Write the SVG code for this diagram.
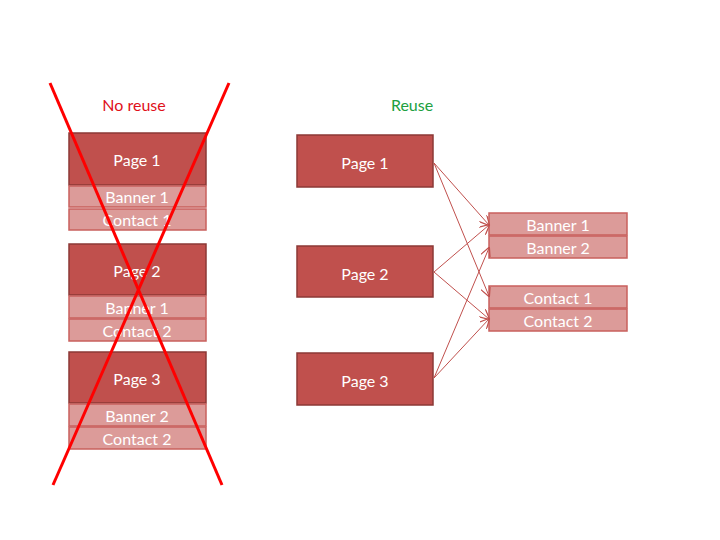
<svg xmlns="http://www.w3.org/2000/svg" width="720" height="540" viewBox="0 0 720 540">
<defs>
<style>
.page{fill:#c0504d;stroke:#8c3836;stroke-width:1.5}
.sub{fill:#dc9b99;stroke:#c9605d;stroke-width:1.5}
.t{font-family:Lato,"Open Sans","Liberation Sans",sans-serif;font-size:16px;fill:#ffffff;text-anchor:middle}
.lbl{font-family:Lato,"Open Sans","Liberation Sans",sans-serif;font-size:16px;text-anchor:middle}
.conn{stroke:#c0504d;stroke-width:1;fill:none;marker-end:url(#ah)}
.x{stroke:#ff0000;stroke-width:3;fill:none}
</style>
<marker id="ah" viewBox="0 0 10 10" refX="9" refY="5" markerWidth="10" markerHeight="10" markerUnits="userSpaceOnUse" orient="auto">
<path d="M0,0 L10,5 L0,10" fill="none" stroke="#c0504d" stroke-width="1.2"/>
</marker>
</defs>
<rect width="720" height="540" fill="#ffffff"/>
<text class="lbl" x="134" y="111" fill="#e0101a">No reuse</text>
<text class="lbl" x="412" y="111" fill="#20a040">Reuse</text>

<g id="left-page1">
<rect class="page" x="69" y="133" width="137" height="52"/>
<text class="t" x="137" y="166">Page 1</text>
<rect class="sub" x="69" y="186" width="137" height="21"/>
<text class="t" x="137" y="203">Banner 1</text>
<rect class="sub" x="69" y="209" width="137" height="21"/>
<text class="t" x="137" y="226">Contact 1</text>
</g>
<g id="left-page2">
<rect class="page" x="69" y="244" width="137" height="51"/>
<text class="t" x="137" y="277">Page 2</text>
<rect class="sub" x="69" y="296" width="137" height="22"/>
<text class="t" x="137" y="314">Banner 1</text>
<rect class="sub" x="69" y="319" width="137" height="22"/>
<text class="t" x="137" y="337">Contact 2</text>
</g>
<g id="left-page3">
<rect class="page" x="69" y="352" width="137" height="51"/>
<text class="t" x="137" y="385">Page 3</text>
<rect class="sub" x="69" y="404" width="137" height="22"/>
<text class="t" x="137" y="422">Banner 2</text>
<rect class="sub" x="69" y="427" width="137" height="22"/>
<text class="t" x="137" y="445">Contact 2</text>
</g>
<g id="cross">
<line class="x" x1="50" y1="83" x2="222" y2="485"/>
<line class="x" x1="229" y1="83" x2="53" y2="485"/>
</g>

<g id="page1">
<rect class="page" x="297" y="135" width="136" height="52"/>
<text class="t" x="365" y="169">Page 1</text>
</g>
<g id="page2">
<rect class="page" x="297" y="246" width="136" height="51"/>
<text class="t" x="365" y="280">Page 2</text>
</g>
<g id="page3">
<rect class="page" x="297" y="353" width="136" height="52"/>
<text class="t" x="365" y="387">Page 3</text>
</g>
<g id="banners">
<rect class="sub" x="489" y="213" width="138" height="22"/>
<text class="t" x="558" y="231">Banner 1</text>
<rect class="sub" x="489" y="236" width="138" height="22"/>
<text class="t" x="558" y="254">Banner 2</text>
</g>
<g id="contacts">
<rect class="sub" x="489" y="286" width="138" height="22"/>
<text class="t" x="558" y="304">Contact 1</text>
<rect class="sub" x="489" y="309" width="138" height="22"/>
<text class="t" x="558" y="327">Contact 2</text>
</g>

<g id="connectors">
<line class="conn" x1="434" y1="163" x2="489" y2="225"/>
<line class="conn" x1="434" y1="163" x2="489" y2="296"/>
<line class="conn" x1="434" y1="272" x2="489" y2="225"/>
<line class="conn" x1="434" y1="272" x2="489" y2="319"/>
<line class="conn" x1="434" y1="378" x2="489" y2="248"/>
<line class="conn" x1="434" y1="378" x2="489" y2="319"/>
</g>
</svg>
